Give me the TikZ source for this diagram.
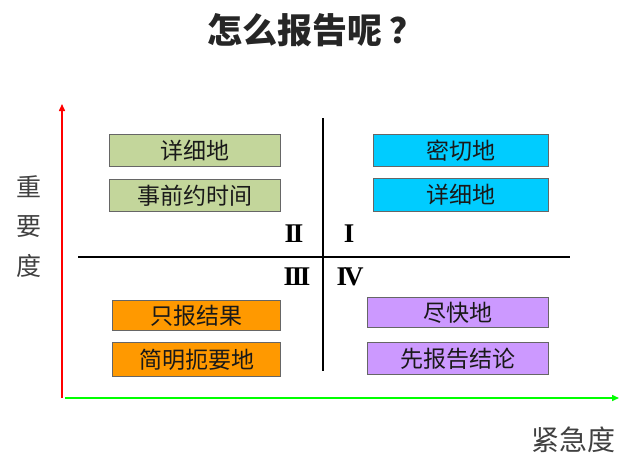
\documentclass[tikz,border=0pt]{standalone}
\usepackage{fontspec}
\setmainfont{Noto Sans CJK SC}
\newfontfamily\romanfont{Liberation Serif}
\usetikzlibrary{arrows.meta}
\definecolor{boxgreen}{HTML}{C3D69B}
\definecolor{boxcyan}{HTML}{00CCFF}
\definecolor{boxorange}{HTML}{FF9900}
\definecolor{boxpurple}{HTML}{CC99FF}
\definecolor{edgegray}{HTML}{666666}
\definecolor{labelgray}{HTML}{404040}
\begin{document}
\begin{tikzpicture}[x=1pt,y=-1pt,
  itembox/.style={draw=edgegray,line width=1pt,inner sep=0pt,anchor=north west,
    font=\fontsize{23}{23}\selectfont,text=black!90},
  numeral/.style={font=\romanfont\bfseries\fontsize{27}{27}\selectfont},
  axislabel/.style={font=\fontsize{25}{25}\selectfont,text=labelgray}]
\useasboundingbox (0,0) rectangle (621,455);
% title
\node[font=\bfseries\fontsize{35}{35}\selectfont,text=black!85] (title) at (316,30) {怎么报告呢\kern8pt ？};
% axes
\coordinate (yb) at (62,398);
\coordinate (yt) at (62,104);
\coordinate (xl) at (65,398);
\coordinate (xr) at (619,398);
\draw[red,line width=1.5pt,-{Triangle[length=7pt,width=6pt]}] (yb) -- (yt);
\draw[green,line width=1.5pt,-{Triangle[length=7pt,width=6pt]}] (xl) -- (xr);
% axis labels
\node[axislabel] (a1) at (29,187) {重};
\node[axislabel] (a2) at (29,227) {要};
\node[axislabel] (a3) at (29,266) {度};
\node[axislabel,font=\fontsize{28}{28}\selectfont] (xlab) at (573,440) {紧急度};
% cross lines
\coordinate (hl) at (78,257);
\coordinate (hr) at (570,257);
\coordinate (vt) at (323,118);
\coordinate (vb) at (323,371);
\draw[line width=2pt] (hl) -- (hr);
\draw[line width=2pt] (vt) -- (vb);
% numerals
\node[numeral] (n2) at (294,234) {I\kern-2.5pt I};
\node[numeral] (n1) at (349,234) {I};
\node[numeral] (n3) at (297,277) {I\kern-2.5pt I\kern-2.5pt I};
\node[numeral] (n4) at (350,277) {I\kern-3pt V};
% boxes
\node[itembox,fill=boxgreen,minimum width=171pt,minimum height=32pt] (g1) at (109,134) {详细地};
\node[itembox,fill=boxgreen,minimum width=171pt,minimum height=32pt] (g2) at (109,179) {事前约时间};
\node[itembox,fill=boxcyan,minimum width=175pt,minimum height=32pt] (c1) at (373,134) {密切地};
\node[itembox,fill=boxcyan,minimum width=175pt,minimum height=33pt] (c2) at (373,178) {详细地};
\node[itembox,fill=boxorange,minimum width=168pt,minimum height=30pt] (o1) at (112,300) {只报结果};
\node[itembox,fill=boxorange,minimum width=168pt,minimum height=34pt] (o2) at (112,342) {简明扼要地};
\node[itembox,fill=boxpurple,minimum width=181pt,minimum height=30pt] (p1) at (367,297) {尽快地};
\node[itembox,fill=boxpurple,minimum width=181pt,minimum height=32pt] (p2) at (367,342) {先报告结论};
\end{tikzpicture}
\end{document}
